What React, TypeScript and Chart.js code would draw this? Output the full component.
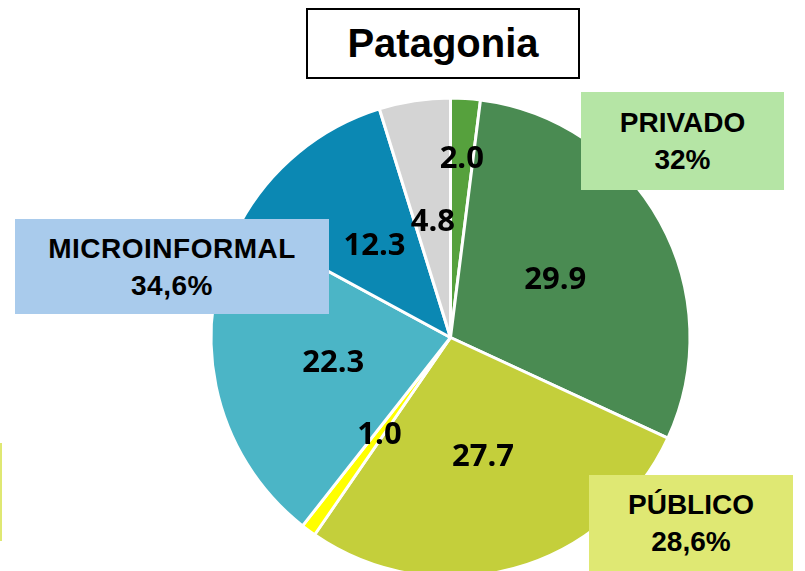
import React, { useEffect, useRef } from "react";
import { Chart, registerables } from "chart.js";

Chart.register(...registerables);

const categories = ["Privado A", "Privado B", "Público A", "Público B", "Micro A", "Micro B", "Otros"];
const values = [2.0, 29.9, 27.7, 1.0, 22.3, 12.3, 4.8];
const sliceColors = ["#56a13d", "#4a8b52", "#c4cf3b", "#ffff00", "#4bb5c6", "#0b88b3", "#d4d4d4"];
const valueLabels = ["2.0", "29.9", "27.7", "1.0", "22.3", "12.3", "4.8"];
const titleText = "Patagonia";
const groupLabels = [
  { name: "PRIVADO", share: "32%" },
  { name: "MICROINFORMAL", share: "34,6%" },
  { name: "PÚBLICO", share: "28,6%" },
];

const LABEL_FONT = "bold 31px 'Open Sans'";

const labelPlugin = {
  id: "valueLabels",
  afterDatasetsDraw(chart: any) {
    const ctx = chart.ctx;
    const meta = chart.getDatasetMeta(0);
    const factors = [0.75, 0.5, 0.515, 0.5, 0.5, 0.5, 0.49];
    ctx.save();
    ctx.font = LABEL_FONT + ", 'Liberation Sans', sans-serif";
    ctx.fillStyle = "#000";
    ctx.textAlign = "center";
    ctx.textBaseline = "middle";
    meta.data.forEach((arc: any, i: number) => {
      const p = arc.getProps(["x", "y", "startAngle", "endAngle", "outerRadius"], true);
      const mid = (p.startAngle + p.endAngle) / 2;
      const r = p.outerRadius * factors[i];
      const x = p.x + Math.cos(mid) * r;
      const y = p.y + Math.sin(mid) * r;
      ctx.fillText(valueLabels[i], x, y + 1);
    });
    ctx.restore();
  },
};

const boxFont = "'Liberation Sans', Arial, sans-serif";

function Box(props: { left: number; top: number; width: number; height: number; bg: string; name: string; share: string; spacing?: number }) {
  return (
    <div
      style={{
        position: "absolute",
        left: props.left,
        top: props.top,
        width: props.width,
        height: props.height,
        background: props.bg,
        display: "flex",
        flexDirection: "column",
        alignItems: "center",
        justifyContent: "center",
        fontFamily: boxFont,
        fontWeight: 700,
        fontSize: 28,
        lineHeight: "37px",
        color: "#000",
        letterSpacing: props.spacing ?? 0,
      }}
    >
      <div>{props.name}</div>
      <div>{props.share}</div>
    </div>
  );
}

export default function App() {
  const ref = useRef<HTMLCanvasElement | null>(null);
  useEffect(() => {
    let chart: Chart | null = null;
    let cancelled = false;
    const build = () => {
      if (cancelled || !ref.current) return;
      chart = new Chart(ref.current, {
        type: "pie",
        data: {
          labels: categories,
          datasets: [
            {
              data: values,
              backgroundColor: sliceColors,
              borderColor: "#ffffff",
              borderWidth: 3,
            },
          ],
        },
        options: {
          responsive: false,
          animation: false,
          devicePixelRatio: 1,
          layout: { padding: { left: 209.5, top: 96.5, right: 113.5, bottom: 21.5 } },
          plugins: {
            legend: { display: false },
            tooltip: { enabled: false },
            title: { display: false },
          },
        },
        plugins: [labelPlugin],
      });
    };
    const fonts: any = (document as any).fonts;
    if (fonts && fonts.load) {
      fonts.load(LABEL_FONT, "0123456789.").then(build, build);
    } else {
      build();
    }
    return () => {
      cancelled = true;
      if (chart) chart.destroy();
    };
  }, []);

  return (
    <div style={{ position: "fixed", left: 0, top: 0, width: 805, height: 571, overflow: "hidden", background: "#fff" }}>
      <canvas ref={ref} width={805} height={600} style={{ position: "absolute", left: 0, top: 0 }} />
      <div
        style={{
          position: "absolute",
          left: 306,
          top: 8,
          width: 274,
          height: 71,
          boxSizing: "border-box",
          border: "2px solid #000",
          background: "#fff",
          display: "flex",
          alignItems: "center",
          justifyContent: "center",
          fontFamily: boxFont,
          fontWeight: 700,
          fontSize: 40,
          color: "#000",
        }}
      >
        {titleText}
      </div>
      <Box left={581} top={92} width={203} height={98} bg="#b5e5a5" name={groupLabels[0].name} share={groupLabels[0].share} />
      <Box left={15} top={219} width={314} height={95} bg="#a9cbec" name={groupLabels[1].name} share={groupLabels[1].share} spacing={0.5} />
      <Box left={589} top={475} width={204} height={96} bg="#dfe873" name={groupLabels[2].name} share={groupLabels[2].share} />
      <div style={{ position: "absolute", left: 0, top: 443, width: 2, height: 98, background: "#dfe873" }} />
    </div>
  );
}
